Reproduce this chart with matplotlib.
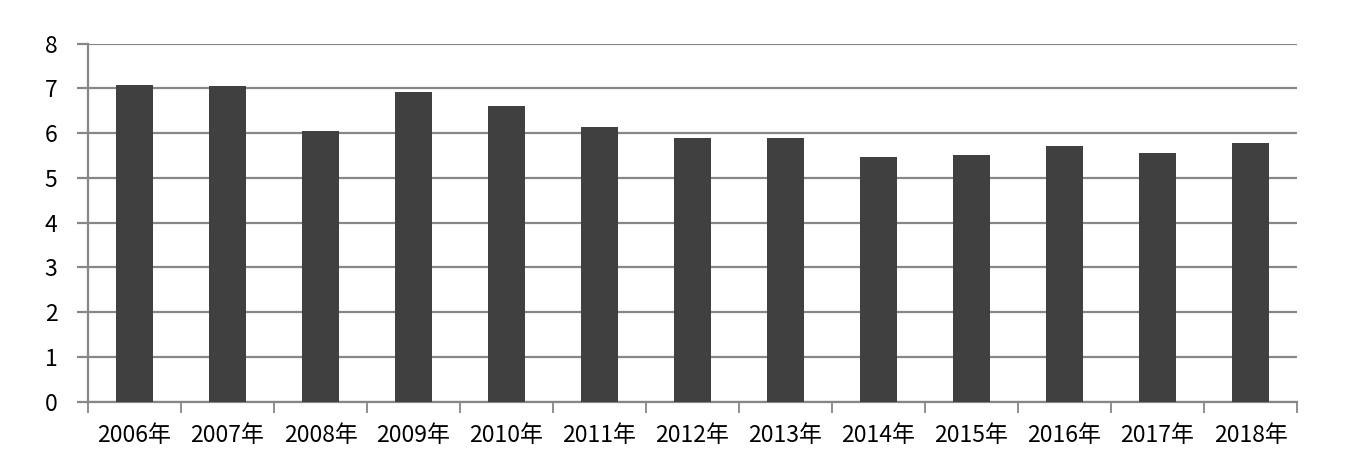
import numpy as np
import matplotlib
matplotlib.use('Agg')
import matplotlib.pyplot as plt

plt.rcParams['font.family'] = ['Noto Sans CJK SC', 'DejaVu Sans']

# 数据
years = ['2006年', '2007年', '2008年', '2009年', '2010年', '2011年', '2012年',
         '2013年', '2014年', '2015年', '2016年', '2017年', '2018年']
values = [7.08, 7.05, 6.05, 6.92, 6.60, 6.13, 5.90, 5.90, 5.47, 5.52, 5.71, 5.56, 5.79]

grid_color = '#878787'

fig = plt.figure(figsize=(13.47, 4.62), dpi=100)
ax = fig.add_axes([88 / 1347, 1 - 401.7 / 462, (1297 - 88) / 1347, (401.7 - 43.7) / 462])

x = np.arange(len(years))
ax.bar(x, values, width=0.4, color='#404040', zorder=3)

ax.set_xlim(-0.5, len(years) - 0.5)
ax.set_ylim(0, 8)
ax.set_yticks(range(0, 9))
ax.yaxis.grid(True, color=grid_color, linewidth=1.6, zorder=0)

# x 轴刻度在类别边界
ax.set_xticks(np.arange(-0.5, len(years)), minor=False)
ax.set_xticklabels([])
ax.set_xticks(x, minor=True)
ax.set_xticklabels(years, minor=True, fontsize=16.5)
ax.tick_params(axis='x', which='minor', length=0, pad=16)
ax.tick_params(axis='x', which='major', length=8, width=1.3, color=grid_color, direction='out')
ax.tick_params(axis='y', length=8, width=1.6, color=grid_color, labelsize=16.5, pad=14)

for s in ['top', 'right']:
    ax.spines[s].set_visible(False)
for s in ['left', 'bottom']:
    ax.spines[s].set_color(grid_color)
    ax.spines[s].set_linewidth(1.6)

fig.savefig('out.png', dpi=100, facecolor='white')
